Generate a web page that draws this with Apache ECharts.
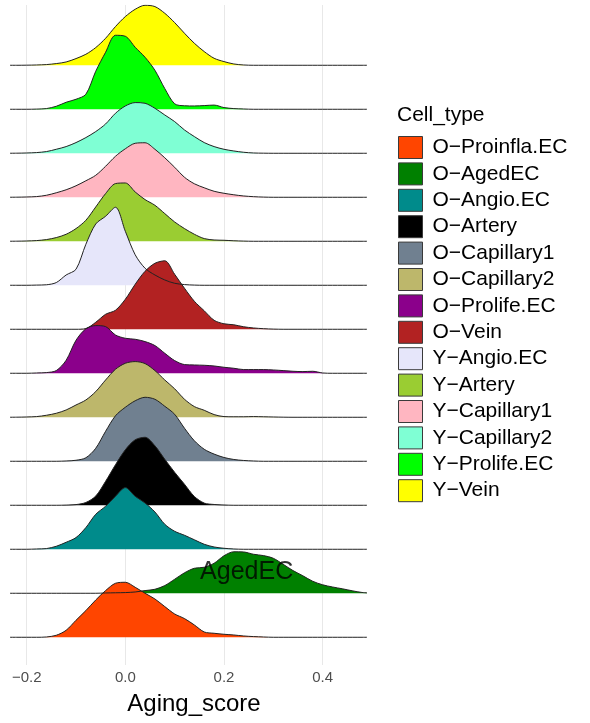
<!DOCTYPE html>
<html><head><meta charset="utf-8">
<script src="https://cdn.jsdelivr.net/npm/echarts@6/dist/echarts.min.js"></script>
<style>html,body{margin:0;padding:0;background:#fff}#c{width:590px;height:723px}</style>
</head><body><div id="c"></div>
<script>
// Cell types, bottom ridge first (same order as the legend)
const cellTypes = ['O-Proinfla.EC','O-AgedEC','O-Angio.EC','O-Artery','O-Capillary1','O-Capillary2','O-Prolife.EC','O-Vein','Y-Angio.EC','Y-Artery','Y-Capillary1','Y-Capillary2','Y-Prolife.EC','Y-Vein'];
const cellColors = ['#FF4500','#008000','#008B8B','#000000','#708090','#BDB76B','#8B008B','#B22222','#E6E6FA','#9ACD32','#FFB6C1','#7FFFD4','#00FF00','#FFFF00'];

// Aging_score grid where densities were read
const scoreGrid = [-0.24,-0.22,-0.20,-0.18,-0.16,-0.14,-0.12,-0.10,-0.08,-0.06,-0.04,-0.02,0.00,0.02,0.04,0.06,0.08,0.10,0.12,0.14,0.16,0.18,0.20,0.22,0.24,0.26,0.28,0.30,0.32,0.34,0.36,0.38,0.40,0.42,0.44,0.46,0.48,0.50];

// Estimated densities per cell type (values at scoreGrid)
const densOProinfla = [0,0,0,0,0.03,0.20,0.70,1.70,2.67,3.73,4.67,5.40,5.50,5.00,4.40,3.83,3.07,2.33,1.87,1.23,0.53,0.40,0.30,0.23,0.13,0.07,0.03,0,0,0,0,0,0,0,0,0,0,0];
const densOAged     = [0,0,0,0,0,0,0,0,0,0,0.03,0.05,0.07,0.13,0.27,0.40,0.77,1.40,2.05,2.50,2.60,3.00,3.75,4.15,4.13,3.90,3.77,3.50,2.90,2.27,1.75,1.20,0.85,0.63,0.45,0.25,0.08,0.02];
const densOAngio    = [0,0,0,0.03,0.07,0.30,0.70,1.17,2.17,3.50,4.30,5.30,6.17,5.30,4.63,3.73,2.50,1.80,1.40,0.95,0.50,0.23,0.10,0.03,0,0,0,0,0,0,0,0,0,0,0,0,0,0];
const densOArtery   = [0,0,0,0,0,0,0.02,0.07,0.28,0.92,2.40,4.05,5.55,6.55,6.80,5.95,4.60,3.30,2.10,0.88,0.22,0.08,0.03,0,0,0,0,0,0,0,0,0,0,0,0,0,0,0];
const densOCap1     = [0,0,0,0,0,0,0.03,0.10,0.35,1.30,3.00,4.55,5.40,6.05,6.40,6.20,5.50,4.70,3.30,2.05,1.20,0.72,0.38,0.18,0.08,0.03,0,0,0,0,0,0,0,0,0,0,0,0];
const densOCap2     = [0,0.01,0.03,0.07,0.20,0.40,0.73,1.23,1.73,2.57,3.73,4.80,5.40,5.57,5.37,4.67,3.73,2.85,1.80,1.07,0.70,0.27,0.07,0.05,0.05,0.07,0.05,0.03,0.01,0,0,0,0,0,0,0,0,0];
const densOProlife  = [0,0,0,0.03,0.07,0.27,1.30,3.30,4.45,4.77,4.67,3.83,3.50,3.40,3.17,2.77,2.00,1.27,0.87,0.83,0.80,0.73,0.60,0.50,0.37,0.37,0.37,0.33,0.27,0.20,0.17,0.20,0.03,0,0,0,0,0];
const densOVein     = [0,0,0,0,0,0,0,0,0.07,0.70,1.50,1.90,3.00,4.50,5.80,6.60,6.85,5.50,4.10,2.80,1.85,0.90,0.55,0.45,0.25,0.13,0.06,0.02,0,0,0,0,0,0,0,0,0,0];
const densYAngio    = [0,0,0,0.02,0.05,0.27,1.03,1.60,4.10,6.13,6.90,7.80,5.40,3.05,1.70,1.03,0.53,0.20,0.07,0.02,0,0,0,0,0,0,0,0,0,0,0,0,0,0,0,0,0,0];
const densYArtery   = [0,0.01,0.03,0.07,0.17,0.37,0.70,1.27,2.10,3.43,4.77,5.77,5.83,4.93,4.17,3.60,2.77,1.93,1.27,0.70,0.27,0.13,0.10,0.05,0.02,0,0,0,0,0,0,0,0,0,0,0,0,0];
const densYCap1     = [0,0.01,0.03,0.07,0.20,0.45,0.75,1.15,1.65,2.20,3.10,4.10,4.85,5.40,5.45,4.80,3.95,3.00,2.00,1.35,0.95,0.60,0.40,0.25,0.13,0.06,0.02,0,0,0,0,0,0,0,0,0,0,0];
const densYCap2     = [0,0.01,0.03,0.07,0.17,0.40,0.67,1.07,1.57,2.17,2.93,4.00,4.73,5.07,5.00,4.50,3.83,3.17,2.33,1.67,1.07,0.67,0.40,0.23,0.10,0.03,0.01,0,0,0,0,0,0,0,0,0,0,0];
const densYProlife  = [0,0,0,0.02,0.07,0.30,0.70,1.00,1.50,3.80,5.70,7.40,7.30,6.20,5.20,3.90,2.07,0.55,0.35,0.33,0.37,0.42,0.17,0.07,0.03,0,0,0,0,0,0,0,0,0,0,0,0,0];
const densYVein     = [0,0,0.01,0.03,0.07,0.17,0.33,0.67,1.10,1.77,2.70,3.87,4.87,5.60,6.00,5.87,5.20,4.27,3.20,2.20,1.37,0.70,0.37,0.13,0.03,0,0,0,0,0,0,0,0,0,0,0,0,0];

const densityByType = [densOProinfla,densOAged,densOAngio,densOArtery,densOCap1,densOCap2,densOProlife,densOVein,densYAngio,densYArtery,densYCap1,densYCap2,densYProlife,densYVein];

// x axis tick labels
const xTicks = [-0.2, 0.0, 0.2, 0.4];

// Annotation
const annotationText = 'AgedEC';
const annotationPos = [0.246, 1.47];

// ---- layout / style constants ----
const FONT = "'Liberation Sans', Arial, sans-serif";
const X_MIN = -0.2318, X_MAX = 0.488;
const Y_MIN = -0.63, Y_MAX = 14.37;
const RIDGE_SCALE = 10 / 44;   // density -> row height (ridge scale)
const fmt = s => s.replace(/-/g, '\u2212');

const series = [];
for (let r = cellTypes.length - 1; r >= 0; r--) {
  series.push({
    type: 'line', name: cellTypes[r],
    data: scoreGrid.map((x, i) => [x, r + densityByType[r][i] * RIDGE_SCALE]),
    symbol: 'none', showSymbol: false, silent: true, smooth: 0.3,
    color: cellColors[r],
    lineStyle: { color: '#222222', width: 1 },
    areaStyle: { color: cellColors[r], opacity: 1, origin: r }
  });
}
series.push({
  type: 'scatter', silent: true, symbolSize: 0, z: 10,
  data: [annotationPos],
  label: { show: true, position: 'inside', formatter: annotationText, fontSize: 25, color: '#000', fontFamily: FONT }
});

const chart = echarts.init(document.getElementById('c'), null, { renderer: 'canvas' });
chart.setOption({
  animation: false,
  backgroundColor: '#fff',
  title: { text: 'Cell_type', left: 397, top: 105, padding: 0,
    textStyle: { fontSize: 21, fontWeight: 'normal', color: '#000', fontFamily: FONT } },
  legend: {
    orient: 'vertical', left: 398, top: 136, padding: 0,
    itemWidth: 24, itemHeight: 22, itemGap: 3.4, selectedMode: false,
    icon: 'rect',
    formatter: n => fmt(n),
    textStyle: { fontSize: 21, color: '#000', fontFamily: FONT, padding: [0, 0, 0, 5] },
    data: cellTypes.map((n, i) => ({ name: n, icon: 'rect',
      itemStyle: { color: cellColors[i], borderColor: '#3a3a3a', borderWidth: 1 } }))
  },
  grid: { left: 11, right: 224, top: 5, bottom: 58 },
  xAxis: {
    type: 'value', min: X_MIN, max: X_MAX, splitNumber: 3,
    axisLine: { show: false },
    axisTick: { show: false, customValues: xTicks },
    axisLabel: { customValues: xTicks, formatter: v => fmt(Number(v).toFixed(1)),
      fontSize: 15, color: '#4d4d4d', margin: 5, fontFamily: FONT },
    splitLine: { show: true, lineStyle: { color: '#e8e8e8', width: 1 } },
    name: 'Aging_score', nameLocation: 'middle', nameGap: 27,
    nameTextStyle: { fontSize: 24, color: '#000', fontFamily: FONT, padding: [0, 0, 0, 11] }
  },
  yAxis: { type: 'value', min: Y_MIN, max: Y_MAX, show: false, splitLine: { show: false } },
  series: series
});
</script></body></html>
